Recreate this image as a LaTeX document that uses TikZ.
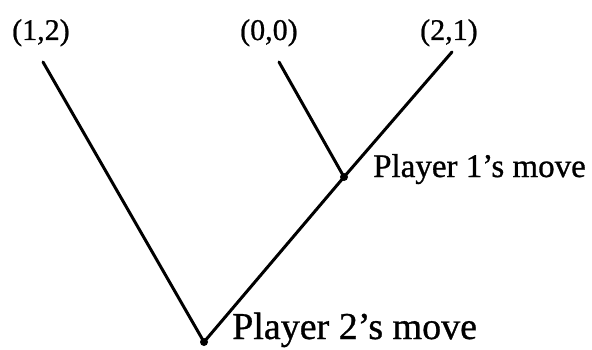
\documentclass[tikz,border=0pt]{standalone}
\usepackage{fontspec}
\setmainfont[FakeBold=0.8]{Liberation Serif}
\begin{document}
\begin{tikzpicture}[x=1pt,y=1pt,
  edge/.style={line width=3pt,line cap=round},
  dot/.style={circle,fill=black,inner sep=0pt,minimum size=8pt},
  pay/.style={anchor=base west,inner sep=0pt,font=\fontsize{30}{36}\selectfont},
  lbl/.style={anchor=base west,inner sep=0pt}]
\useasboundingbox (0,0) rectangle (592,349);
\node[dot] (root) at (204,7) {};
\node[dot] (p1) at (344,172) {};
\coordinate (lt) at (43,287);
\coordinate (mt) at (279,287);
\coordinate (rt) at (452,297);
\draw[edge] (lt) -- (root.center) -- (p1.center) -- (rt);
\draw[edge] (mt) -- (p1.center);
\node[pay] (a) at (12,309) {(1,2)};
\node[pay] (b) at (240,309) {(0,0)};
\node[pay] (c) at (420,309) {(2,1)};
\node[lbl,font=\fontsize{33}{40}\selectfont] (l1) at (373,172) {Player 1’s move};
\node[lbl,font=\fontsize{38}{46}\selectfont] (l2) at (232,10) {Player 2’s move};
\end{tikzpicture}
\end{document}
